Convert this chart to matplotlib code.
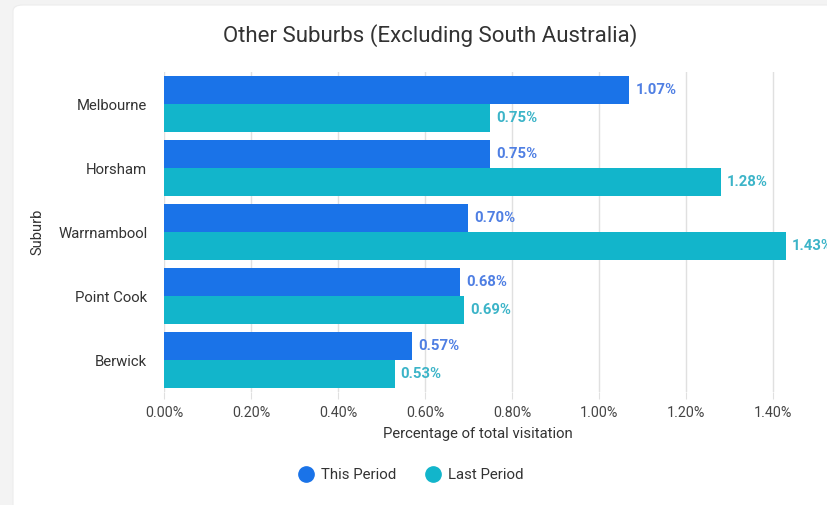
import matplotlib.pyplot as plt
from matplotlib.patches import FancyBboxPatch
from matplotlib.lines import Line2D
from matplotlib.ticker import FuncFormatter

plt.rcParams['font.family'] = ['Roboto', 'DejaVu Sans']

# data
suburbs = ['Melbourne', 'Horsham', 'Warrnambool', 'Point Cook', 'Berwick']
this_period = [1.07, 0.75, 0.70, 0.68, 0.57]
last_period = [0.75, 1.28, 1.43, 0.69, 0.53]
xticks = [0.0, 0.2, 0.4, 0.6, 0.8, 1.0, 1.2, 1.4]

c_this = '#1a73e8'
c_last = '#12b5cb'
lab_this = '#4f7fe3'
lab_last = '#3cb4c8'

fig = plt.figure(figsize=(8.28, 5.05), dpi=100)
fig.patch.set_facecolor('#f3f3f3')

# white card behind everything
card = FancyBboxPatch((13 / 828, -0.05), 1.0, 1.05 - 5 / 505,
                      boxstyle='round,pad=0,rounding_size=0.012',
                      transform=fig.transFigure, facecolor='white',
                      edgecolor='#ececec', linewidth=0.8, zorder=-10)
fig.patches.append(card)

# axes: x=0 at px 164, 0.2% = 87 px, plot from y=72 to y=392
x0 = 164 / 828
w = 87 * 8 / 828
ax = fig.add_axes([x0, 1 - 392 / 505, w, 320 / 505])
ax.set_facecolor('none')

n = len(suburbs)
pos = list(range(n))[::-1]
h = 0.4375
y_this = [p + h / 2 for p in pos]
y_last = [p - h / 2 for p in pos]
ax.barh(y_this, this_period, height=h, color=c_this, zorder=3)
ax.barh(y_last, last_period, height=h, color=c_last, zorder=3)

for y, v in zip(y_this, this_period):
    ax.text(v + 0.014, y, f'{v:.2f}%', va='center', ha='left', fontsize=10.7,
            fontweight='bold', color=lab_this, zorder=4)
for y, v in zip(y_last, last_period):
    ax.text(v + 0.014, y, f'{v:.2f}%', va='center', ha='left', fontsize=10.7,
            fontweight='bold', color=lab_last, zorder=4)

ax.set_xlim(0, 1.6)
ax.set_ylim(-0.5, n - 0.5)
ax.set_xticks(xticks)
ax.xaxis.set_major_formatter(FuncFormatter(lambda v, p: f'{v:.2f}%'))
ax.set_yticks(pos)
ax.set_yticklabels(suburbs)
ax.grid(axis='x', color='#e0e0e0', linewidth=1, zorder=0)
for s in ax.spines.values():
    s.set_visible(False)
ax.tick_params(axis='x', length=5, color='#e0e0e0', labelsize=10.3,
               labelcolor='#444444', pad=5)
ax.tick_params(axis='y', length=0, labelsize=10.7, labelcolor='#333333', pad=12)

ax.set_xlabel('Percentage of total visitation', fontsize=10.7, color='#333333')
ax.xaxis.set_label_coords((478 - 164) / (87 * 8), -(436 - 392 - 9) / 320)
fig.text(37 / 828, 1 - 232 / 505, 'Suburb', rotation=90, fontsize=10.5,
         color='#333333', ha='center', va='center')
fig.text(430 / 828, 1 - 36 / 505, 'Other Suburbs (Excluding South Australia)',
         fontsize=16, color='#333333', ha='center', va='center')

handles = [Line2D([], [], marker='o', linestyle='none', markersize=11,
                  markerfacecolor=c_this, markeredgecolor=c_this),
           Line2D([], [], marker='o', linestyle='none', markersize=11,
                  markerfacecolor=c_last, markeredgecolor=c_last)]
fig.legend(handles, ['This Period', 'Last Period'], loc='center',
           bbox_to_anchor=(411 / 828, 1 - 475 / 505), ncol=2, frameon=False,
           fontsize=10.8, handlelength=1.0, handletextpad=0.5,
           columnspacing=2.0, labelcolor='#333333')

fig.savefig('out.png', dpi=100, facecolor=fig.get_facecolor())
